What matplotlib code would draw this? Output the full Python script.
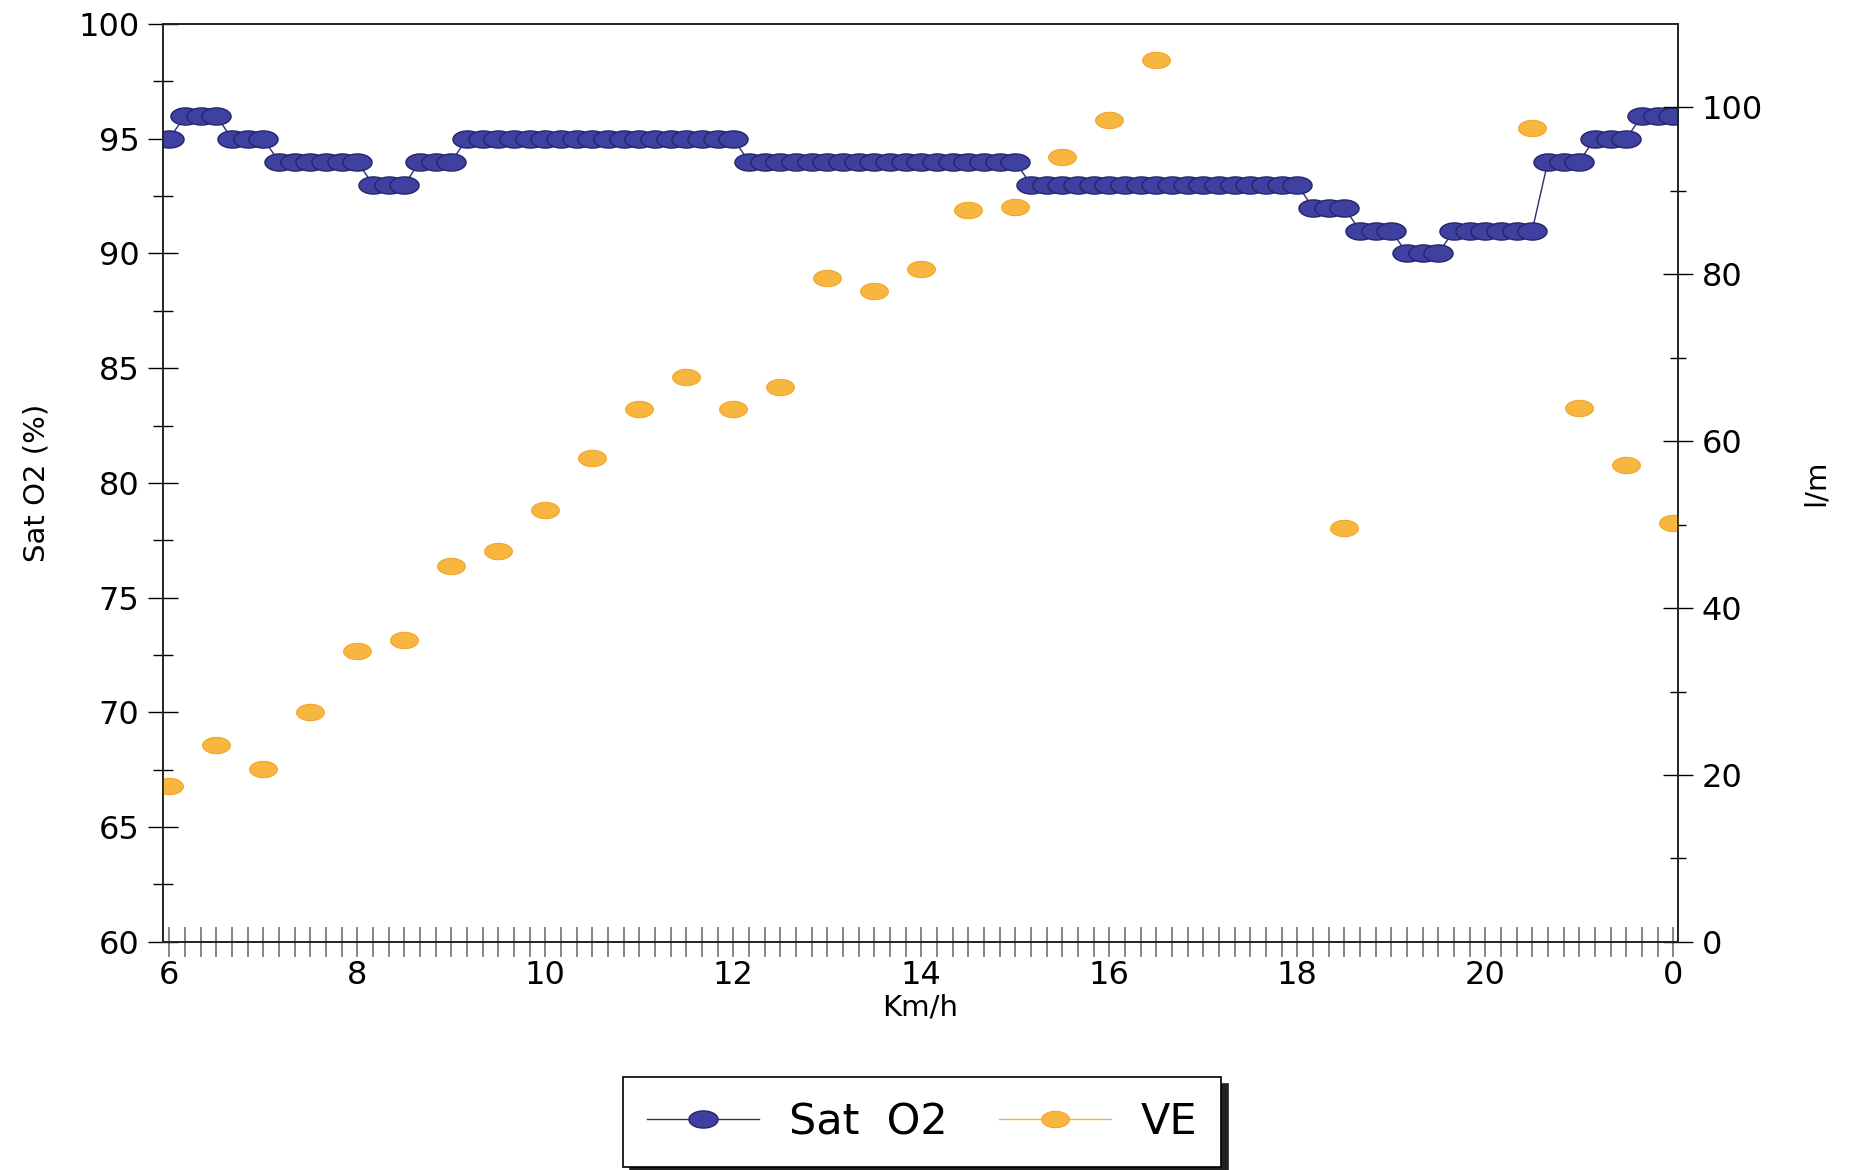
import numpy as np
import matplotlib.pyplot as plt
from matplotlib.path import Path
from matplotlib.ticker import MultipleLocator, FixedLocator

# Sat O2 (%) - one reading per category (97 readings)
sat_o2 = [
    95,
    96, 96, 96,
    95, 95, 95,
    94, 94, 94, 94, 94, 94,
    93, 93, 93,
    94, 94, 94,
    95, 95, 95, 95, 95, 95, 95, 95, 95, 95, 95, 95, 95, 95, 95, 95, 95, 95,
    94, 94, 94, 94, 94, 94, 94, 94, 94, 94, 94, 94, 94, 94, 94, 94, 94, 94,
    93, 93, 93, 93, 93, 93, 93, 93, 93, 93, 93, 93, 93, 93, 93, 93, 93, 93,
    92, 92, 92,
    91, 91, 91,
    90, 90, 90,
    91, 91, 91, 91, 91, 91,
    94, 94, 94,
    95, 95, 95,
    96, 96, 96,
]

# VE (l/m) - only recorded at some categories
ve_cat = [0, 3, 6, 9, 12, 15, 18, 21, 24, 27, 30, 33, 36, 39, 42, 45, 48,
          51, 54, 57, 60, 63, 75, 87, 90, 93, 96]
ve_val = [18.7, 23.6, 20.7, 27.6, 34.8, 36.2, 45.1, 46.9, 51.7, 58.0, 63.9,
          67.7, 63.8, 66.5, 79.6, 78.0, 80.6, 87.7, 88.1, 94.0, 98.5, 105.7,
          49.6, 97.5, 64.0, 57.2, 50.2]

# x axis labels, one every 12 categories
x_label_pos = [0, 12, 24, 36, 48, 60, 72, 84, 96]
x_labels = ["6", "8", "10", "12", "14", "16", "18", "20", "0"]

n = len(sat_o2)
x = np.arange(n)
ve = np.full(n, np.nan)
ve[ve_cat] = ve_val

# flat ellipse marker like the scanned chart
t = np.linspace(0, 2 * np.pi, 41)
ellipse = Path(np.column_stack([1.7 * np.cos(t), np.sin(t)]), closed=True)

plt.rcParams['font.family'] = ['DejaVu Sans']

fig = plt.figure(figsize=(18.53, 11.70), dpi=100)
ax = fig.add_axes([0.088, 0.195, 0.8175, 0.7845])
ax2 = ax.twinx()

l1, = ax.plot(x, sat_o2, color='#2e2e78', lw=1.0, marker=ellipse,
              markersize=21, markerfacecolor='#3f41a0',
              markeredgecolor='#25256a', markeredgewidth=1.0, label='Sat  O2')
l2, = ax2.plot(x, ve, color='#f5b440', lw=1.0, marker=ellipse,
               markersize=20, markerfacecolor='#f7b640',
               markeredgecolor='#f3a52a', markeredgewidth=0.8, label='VE')

ax.set_xlim(-0.4, 96.3)
ax.set_ylim(60, 100)
ax2.set_ylim(0, 110)

ax.yaxis.set_major_locator(MultipleLocator(5))
ax.yaxis.set_minor_locator(MultipleLocator(2.5))
ax2.yaxis.set_major_locator(FixedLocator([0, 20, 40, 60, 80, 100]))
ax2.yaxis.set_minor_locator(FixedLocator([10, 30, 50, 70, 90]))

ax.set_xticks(x_label_pos)
ax.set_xticklabels(x_labels)
ax.xaxis.set_minor_locator(FixedLocator(x))

ax.tick_params(axis='y', which='major', direction='inout', length=22,
               width=1, labelsize=23, pad=6)
ax.tick_params(axis='y', which='minor', direction='inout', length=14, width=1)
ax2.tick_params(axis='y', which='major', direction='inout', length=22,
                width=1, labelsize=23, pad=6)
ax2.tick_params(axis='y', which='minor', direction='inout', length=12, width=1)
ax.tick_params(axis='x', which='both', direction='inout', length=22,
               width=1.1, color='#666666', labelsize=23, pad=2)

for a in (ax, ax2):
    for s in a.spines.values():
        s.set_linewidth(1.2)
        s.set_color('#222222')

ax.set_ylabel('Sat O2 (%)', fontsize=21, labelpad=20)
ax2.set_ylabel('l/m', fontsize=21, labelpad=28)
ax.set_xlabel('Km/h', fontsize=21, labelpad=2)

leg = fig.legend([l1, l2], ['Sat  O2', 'VE'], loc='center',
                 bbox_to_anchor=(0.4977, 0.041), ncol=2, fontsize=31,
                 frameon=True, fancybox=False, edgecolor='black',
                 shadow={'ox': 5, 'oy': -5, 'color': '#222222', 'alpha': 1},
                 handlelength=2.6, handletextpad=0.7, columnspacing=1.2,
                 borderpad=0.55, markerscale=1.0)
leg.get_frame().set_linewidth(1.2)

fig.savefig('out.png', dpi=100, facecolor='white')
